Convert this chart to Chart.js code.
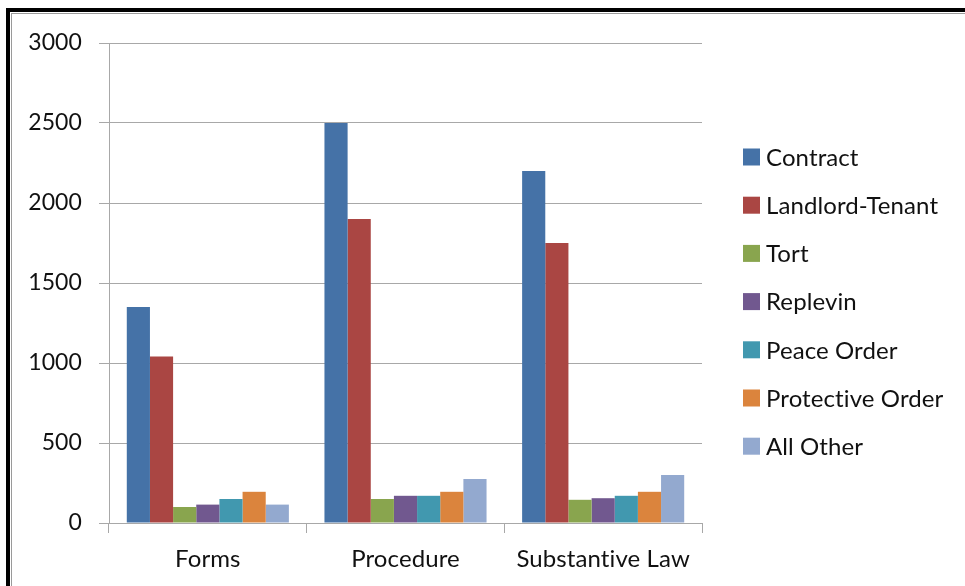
<!DOCTYPE html>
<html>
<head>
<meta charset="utf-8">
<script src="https://cdn.jsdelivr.net/npm/chart.js@4.4.1/dist/chart.umd.min.js"></script>
<style>
  html, body { margin: 0; padding: 0; background: #fff; }
  #wrap { position: relative; width: 965px; height: 586px; }
  canvas { font-variant-ligatures: none; }
</style>
</head>
<body>
<div id="wrap"><canvas id="chart" width="965" height="586"></canvas></div>
<script>
// Case categories along the x axis
const categories = ['Forms', 'Procedure', 'Substantive Law'];

// Counts per case type, one value per category
const contract        = [1350, 2500, 2200];
const landlordTenant  = [1040, 1900, 1750];
const tort            = [100, 150, 145];
const replevin        = [115, 170, 155];
const peaceOrder      = [150, 170, 170];
const protectiveOrder = [195, 195, 195];
const allOther        = [115, 275, 300];

const seriesNames  = ['Contract', 'Landlord-Tenant', 'Tort', 'Replevin', 'Peace Order', 'Protective Order', 'All Other'];
const seriesValues = [contract, landlordTenant, tort, replevin, peaceOrder, protectiveOrder, allOther];
const seriesColors = ['#4572A7', '#AA4643', '#89A54E', '#71588F', '#4198AF', '#DB843D', '#93A9CF'];

// Y axis tick values
const yTicks = [0, 500, 1000, 1500, 2000, 2500, 3000];

const FONT = 'Lato, "Open Sans", sans-serif';
const TEXT = '#111111';
const GRID = '#a8a8a8';

// Frame along the top and left edges; also turns off ligatures for all text
const framePlugin = {
  id: 'frame',
  beforeDraw(chart) {
    const ctx = chart.ctx;
    ctx.save();
    ctx.fillStyle = '#ffffff';
    ctx.fillRect(0, 0, chart.width, chart.height);
    ctx.fillStyle = '#000000';
    ctx.fillRect(6, 8, 4, chart.height - 8);
    ctx.fillRect(6, 8, chart.width - 6, 4);
    ctx.fillStyle = '#9a9a9a';
    ctx.fillRect(11, 13, 1, chart.height - 13);
    ctx.fillRect(11, 13, chart.width - 11, 1);
    ctx.restore();
    if ('letterSpacing' in ctx) ctx.letterSpacing = '0.1px';
  }
};

// Vertical legend to the right of the plot
const legendPlugin = {
  id: 'sideLegend',
  afterDraw(chart) {
    const ctx = chart.ctx;
    ctx.save();
    ctx.font = '24px ' + FONT;
    ctx.textBaseline = 'middle';
    ctx.textAlign = 'left';
    chart.data.datasets.forEach((ds, i) => {
      const cy = 157 + i * 48.2;
      ctx.fillStyle = ds.backgroundColor;
      ctx.fillRect(743, cy - 8.5, 17, 17);
      ctx.fillStyle = TEXT;
      ctx.fillText(ds.label, 766, cy + 1);
    });
    ctx.restore();
  }
};

new Chart(document.getElementById('chart'), {
  type: 'bar',
  data: {
    labels: categories,
    datasets: seriesNames.map((name, i) => ({
      label: name,
      data: seriesValues[i],
      backgroundColor: seriesColors[i],
      borderWidth: 0,
      categoryPercentage: 0.82,
      barPercentage: 1.0
    }))
  },
  options: {
    responsive: false,
    animation: false,
    layout: { padding: { top: 43, right: 263, bottom: 0, left: 0 } },
    plugins: {
      legend: { display: false },
      tooltip: { enabled: false }
    },
    scales: {
      x: {
        offset: true,
        grid: { display: true, drawOnChartArea: false, drawTicks: true, tickLength: 10, color: GRID, offset: true },
        border: { display: false },
        ticks: { font: { family: FONT, size: 24 }, color: TEXT, padding: 12 },
        afterFit(scale) { scale.height = 63; }
      },
      y: {
        min: 0,
        max: 3000,
        afterBuildTicks(scale) { scale.ticks = yTicks.map(v => ({ value: v })); },
        grid: { color: GRID, tickLength: 10, lineWidth: 1 },
        border: { display: true, color: GRID },
        ticks: {
          font: { family: FONT, size: 23 },
          color: TEXT,
          padding: 17,
          callback: (v) => String(v)
        },
        afterFit(scale) { scale.width = 109; }
      }
    }
  },
  plugins: [framePlugin, legendPlugin]
});
</script>
</body>
</html>
